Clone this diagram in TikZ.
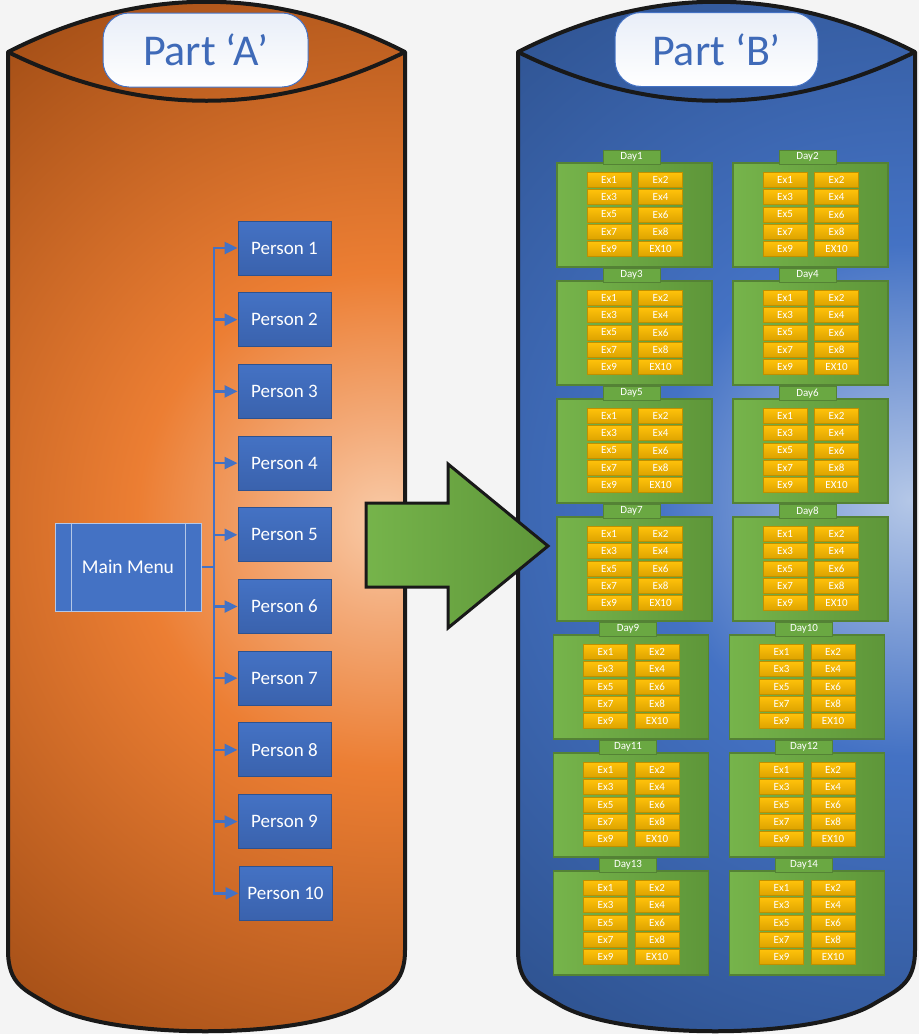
\documentclass[tikz,border=0pt]{standalone}
\usepackage{fontspec}
\setmainfont{Carlito}
\usepackage{xcolor}
\usetikzlibrary{arrows.meta,calc}

\definecolor{bggray}{HTML}{F4F4F4}
\definecolor{peachL}{HTML}{F9CBA8}
\definecolor{peachM}{HTML}{F3AA78}
\definecolor{orangeM}{HTML}{EC7E33}
\definecolor{brownD}{HTML}{A34E16}
\definecolor{skyL}{HTML}{B4C7E7}
\definecolor{skyM}{HTML}{88A5DA}
\definecolor{blueM}{HTML}{4472C4}
\definecolor{blueD}{HTML}{2E528F}
\definecolor{blueT}{HTML}{3F6AB8}
\definecolor{blueB}{HTML}{3A62AD}
\definecolor{greenL}{HTML}{76B44B}
\definecolor{greenM}{HTML}{6AA842}
\definecolor{greenD}{HTML}{5E9639}
\definecolor{greenE}{HTML}{548235}
\definecolor{goldL}{HTML}{FFC20A}
\definecolor{goldD}{HTML}{DDA300}
\definecolor{goldE}{HTML}{BF9000}

\pgfdeclareradialshading{glowA}{\pgforigin}{color(0bp)=(peachL); color(4bp)=(peachM); color(10bp)=(orangeM); color(25bp)=(brownD); color(50bp)=(brownD)}
\pgfdeclareradialshading{glowB}{\pgforigin}{color(0bp)=(skyL); color(4bp)=(skyM); color(10bp)=(blueM); color(25bp)=(blueD); color(50bp)=(blueD)}

\begin{document}
\begin{tikzpicture}[x=1pt, y=-1pt,
  cylline/.style={black!90, line width=4pt, line join=round},
  partlabel/.style={draw=blueM, line width=1pt, rounded corners=26pt, top color=blueM!12, bottom color=white,
    minimum width=205pt, minimum height=74pt, inner sep=0pt, text=blueT, font=\fontsize{44}{50}\selectfont},
  menu/.style={fill=blueM, draw=skyL, line width=1pt, minimum width=146pt, minimum height=88pt,
    inner sep=0pt, text=white, font=\fontsize{19.5}{22}\selectfont},
  person/.style={top color=blueM, bottom color=blueB, draw=blueD, line width=1pt, minimum width=93pt,
    minimum height=54pt, inner sep=0pt, text=white, font=\fontsize{19}{22}\selectfont},
  link/.style={blueM, line width=2.5pt},
  daybox/.style={left color=greenL, right color=greenD, draw=greenE, line width=1.5pt,
    minimum width=155pt, minimum height=104pt, inner sep=0pt},
  daytab/.style={fill=greenM, draw=greenE, line width=1pt, minimum width=57pt, minimum height=14pt,
    inner sep=0pt, text=white, font=\fontsize{11}{12}\selectfont},
  exbox/.style={top color=goldL, bottom color=goldD, draw=goldE, line width=1pt, minimum width=44pt,
    minimum height=15pt, inner sep=0pt, text=white, font=\fontsize{11}{12}\selectfont},
  bigarrow/.style={left color=greenL, right color=greenD, draw=black!90, line width=3pt, line join=miter}]

  \useasboundingbox (0,0) rectangle (919,1034);
  \fill[bggray] (0,0) rectangle (919,1034);

  % Part A cylinder
  \begin{scope}
    \clip (8,52) -- (8,950) .. controls (8,985) and (25,990) .. (50,1005) .. controls (110,1040) and (300,1040) .. (362,1005) .. controls (387,990) and (405,985) .. (405,950) -- (405,52) .. controls (273,-15) and (140,-15) .. (8,52) -- cycle;
    \shade[shading=glowA] (385,520) circle (620);
  \end{scope}
  \draw[cylline] (8,52) -- (8,950) .. controls (8,985) and (25,990) .. (50,1005) .. controls (110,1040) and (300,1040) .. (362,1005) .. controls (387,990) and (405,985) .. (405,950) -- (405,52) .. controls (273,-15) and (140,-15) .. (8,52) -- cycle;
  \draw[cylline] (8,52) .. controls (140,117) and (273,117) .. (405,52);

  % Part B cylinder
  \begin{scope}
    \clip (518,52) -- (518,950) .. controls (518,985) and (535,990) .. (560,1005) .. controls (620,1040) and (810,1040) .. (872,1005) .. controls (897,990) and (915,985) .. (915,950) -- (915,52) .. controls (783,-15) and (650,-15) .. (518,52) -- cycle;
    \shade[shading=glowB] (910,500) circle (640);
  \end{scope}
  \draw[cylline] (518,52) -- (518,950) .. controls (518,985) and (535,990) .. (560,1005) .. controls (620,1040) and (810,1040) .. (872,1005) .. controls (897,990) and (915,985) .. (915,950) -- (915,52) .. controls (783,-15) and (650,-15) .. (518,52) -- cycle;
  \draw[cylline] (518,52) .. controls (650,117) and (783,117) .. (915,52);

  \node[partlabel] (partA) at (205.5,50) {Part ‘A’};
  \node[partlabel, minimum width=203pt] (partB) at (716.5,49.5) {Part ‘B’};

  % transfer arrow
  \draw[bigarrow] (366,503) -- (448,503) -- (448,464) -- (548,546) -- (448,628) -- (448,587) -- (366,587) -- cycle;

  % menu and persons
  \node[menu] (mm) at (128,567) {Main Menu};
  \draw[skyL, line width=1pt] ([xshift=17pt]mm.north west) -- ([xshift=17pt]mm.south west);
  \draw[skyL, line width=1pt] ([xshift=-16pt]mm.north east) -- ([xshift=-16pt]mm.south east);
  \node[person] (p1) at (284.5,248) {Person 1};
  \node[person] (p2) at (284.5,319.7) {Person 2};
  \node[person] (p3) at (284.5,391.4) {Person 3};
  \node[person] (p4) at (284.5,463.1) {Person 4};
  \node[person] (p5) at (284.5,534.8) {Person 5};
  \node[person] (p6) at (284.5,606.5) {Person 6};
  \node[person] (p7) at (284.5,678.2) {Person 7};
  \node[person] (p8) at (284.5,749.9) {Person 8};
  \node[person] (p9) at (284.5,821.6) {Person 9};
  \node[person] (p10) at (285.5,893.3) {Person 10};
  \coordinate (jn) at (214,567);
  \draw[link] (mm.east) -- (jn);
  \foreach \i in {1,...,10}
    \draw[link, -{Triangle[length=13pt,width=12pt]}] (jn) |- (p\i.west);

  % days with exercises
  \foreach \d in {1,...,14}{
    \pgfmathtruncatemacro{\r}{(\d-1)/2}
    \pgfmathtruncatemacro{\c}{mod(\d-1,2)}
    \pgfmathsetmacro{\dx}{(\c==0 ? 634.5 : 810.5) - (\r>3 ? 3.5 : 0)}
    \pgfmathsetmacro{\dy}{215+118*\r}
    \node[daybox] (day\d) at (\dx,\dy) {};
    \node[daytab] (tab\d) at ([xshift=-3pt,yshift=5pt]day\d.north) {Day\d};
    \foreach \k in {1,...,10}{
      \pgfmathtruncatemacro{\er}{(\k-1)/2}
      \pgfmathtruncatemacro{\ec}{mod(\k-1,2)}
      \pgfmathsetmacro{\ex}{\dx-25.5+51.5*\ec}
      \pgfmathsetmacro{\ey}{\dy-35+17.25*\er}
      \node[exbox] (ex\d-\k) at (\ex,\ey) {\ifnum\k=10 EX10\else Ex\k\fi};
    }
  }
\end{tikzpicture}
\end{document}
